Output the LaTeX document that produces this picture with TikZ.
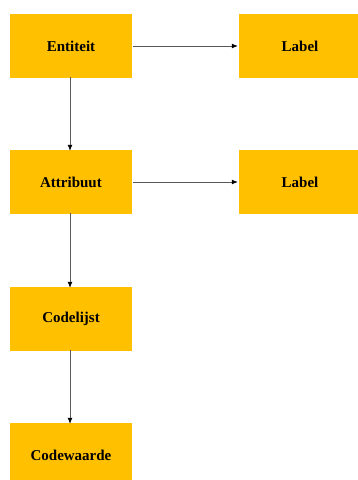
\documentclass[tikz,border=0pt]{standalone}
\usepackage{fontspec}
\setmainfont{Liberation Serif}
\usetikzlibrary{arrows.meta}
\definecolor{boxfill}{HTML}{FFC000}
\tikzset{
  box/.style={fill=boxfill, draw=none, minimum width=122pt, minimum height=64pt, inner sep=0pt,
    font=\fontsize{15pt}{17pt}\selectfont\bfseries, text=black, anchor=center},
  conn/.style={draw=black!65, line width=0.8pt, -{Latex[length=6pt,width=5pt,black]}}
}
\begin{document}
\begin{tikzpicture}[x=1pt,y=-1pt]
\useasboundingbox (0,0) rectangle (357,480);
\node[box] (ent) at (71,46) {Entiteit};
\node[box] (lab1) at (300,46) {Label};
\node[box] (att) at (71,182) {Attribuut};
\node[box] (lab2) at (300,182) {Label};
\node[box] (cl) at (71,319) {Codelijst};
\node[box] (cw) at (71,455) {Codewaarde};
\draw[conn] ([xshift=1pt]ent.east) -- ([xshift=-1pt]lab1.west);
\draw[conn] ([xshift=1pt]att.east) -- ([xshift=-1pt]lab2.west);
\draw[conn] ([xshift=-1pt,yshift=1pt]ent.south) -- ([xshift=-1pt,yshift=-1pt]att.north);
\draw[conn] ([xshift=-1pt,yshift=1pt]att.south) -- ([xshift=-1pt,yshift=-1pt]cl.north);
\draw[conn] ([xshift=-1pt,yshift=1pt]cl.south) -- ([xshift=-1pt,yshift=-1pt]cw.north);
\end{tikzpicture}
\end{document}
